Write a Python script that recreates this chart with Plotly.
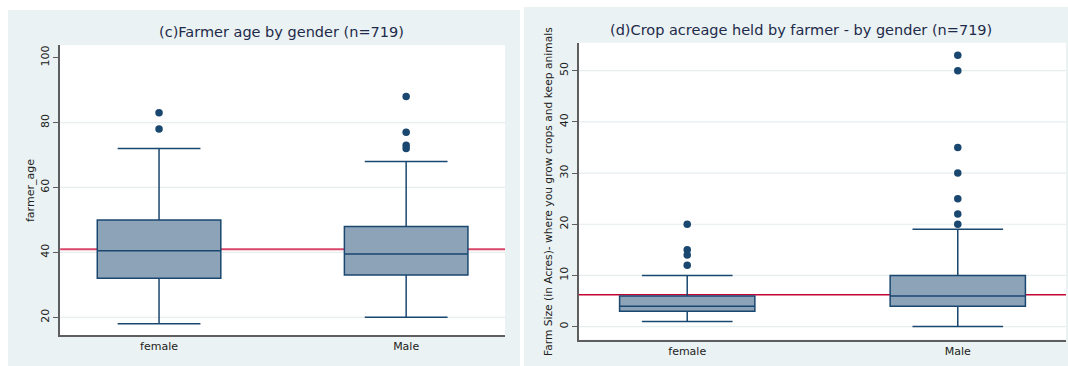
import plotly.graph_objects as go

# ---------------- data ----------------
GENDERS = ["female", "Male"]

AGE_Q1 = [32, 33]
AGE_MED = [40.5, 39.5]
AGE_Q3 = [50, 48]
AGE_LO = [18, 20]
AGE_HI = [72, 68]
AGE_OUT_FEMALE = [78, 83]
AGE_OUT_MALE = [72, 73, 77, 88]
AGE_MEAN = 41.0
AGE_TICKS = [20, 40, 60, 80, 100]
AGE_GRID = [20, 40, 60, 80]

ACRE_Q1 = [3, 4]
ACRE_MED = [4, 6]
ACRE_Q3 = [6, 10]
ACRE_LO = [1, 0]
ACRE_HI = [10, 19]
ACRE_OUT_FEMALE = [12, 14, 15, 20]
ACRE_OUT_MALE = [20, 22, 25, 30, 35, 50, 53]
ACRE_MEAN = 6.2
ACRE_TICKS = [0, 10, 20, 30, 40, 50]
ACRE_GRID = [0, 10, 20, 30, 40, 50]

TITLE_C = "(c)Farmer age by gender (n=719)"
TITLE_D = "(d)Crop acreage held by farmer - by gender (n=719)"
YTITLE_C = "farmer_age"
YTITLE_D = "Farm Size (in Acres)- where you grow crops and keep animals"

# ---------------- style ----------------
W, H = 1068, 366
NAVY = "#1A476F"
FILL = "#8DA3B8"
RED = "#C10534"
BG = "#EAF2F3"
GRID = "#E6EEF0"
AXIS = "#5E5E5E"
TXT = "#1E2A4A"
FONT = "DejaVu Sans"

def px(x):
    return x / W

def py(y):
    return 1 - y / H

fig = go.Figure()

def add_panel(xa, ya, q1, med, q3, lo, hi, out_f, out_m):
    fig.add_trace(go.Box(
        x=GENDERS, q1=q1, median=med, q3=q3, lowerfence=lo, upperfence=hi,
        boxpoints=False, width=0.5, whiskerwidth=0.67,
        fillcolor=FILL, line=dict(color=NAVY, width=1.5),
        xaxis=xa, yaxis=ya, showlegend=False, hoverinfo="skip"))
    for cat, vals in ((GENDERS[0], out_f), (GENDERS[1], out_m)):
        fig.add_trace(go.Scatter(
            x=[cat] * len(vals), y=vals, mode="markers",
            marker=dict(color=NAVY, size=7.5, line=dict(width=0)),
            xaxis=xa, yaxis=ya, showlegend=False, hoverinfo="skip"))

add_panel("x", "y", AGE_Q1, AGE_MED, AGE_Q3, AGE_LO, AGE_HI,
          AGE_OUT_FEMALE, AGE_OUT_MALE)
add_panel("x2", "y2", ACRE_Q1, ACRE_MED, ACRE_Q3, ACRE_LO, ACRE_HI,
          ACRE_OUT_FEMALE, ACRE_OUT_MALE)

shapes = []
# white gaps around the two grey panels
for x0, y0, x1, y1 in [(0, 0, 8, H), (0, 0, 524, 10), (520, 0, 524, H), (524, 0, W, 7)]:
    shapes.append(dict(type="rect", xref="paper", yref="paper",
                       x0=px(x0), x1=px(x1), y0=py(y1), y1=py(y0),
                       fillcolor="white", line=dict(width=0), layer="below"))

# grid lines
for v in AGE_GRID:
    shapes.append(dict(type="line", xref="x domain", yref="y", x0=0, x1=1, y0=v, y1=v,
                       line=dict(color=GRID, width=1.2), layer="below"))
for v in ACRE_GRID:
    shapes.append(dict(type="line", xref="x2 domain", yref="y2", x0=0, x1=1, y0=v, y1=v,
                       line=dict(color=GRID, width=1.2), layer="below"))
# mean reference lines
shapes.append(dict(type="line", xref="x domain", yref="y", x0=0, x1=1,
                   y0=AGE_MEAN, y1=AGE_MEAN, line=dict(color="#D9466A", width=2), layer="below"))
shapes.append(dict(type="line", xref="x2 domain", yref="y2", x0=0, x1=1,
                   y0=ACRE_MEAN, y1=ACRE_MEAN, line=dict(color=RED, width=1.5), layer="below"))

annotations = [
    dict(text=TITLE_C, x=px(281), y=py(32), xref="paper", yref="paper",
         xanchor="center", yanchor="middle", showarrow=False,
         font=dict(family=FONT, size=14.5, color=TXT)),
    dict(text=TITLE_D, x=px(801), y=py(30), xref="paper", yref="paper",
         xanchor="center", yanchor="middle", showarrow=False,
         font=dict(family=FONT, size=14.5, color=TXT)),
    dict(text=YTITLE_C, x=px(30), y=py(191), xref="paper", yref="paper",
         xanchor="center", yanchor="middle", showarrow=False, textangle=-90,
         font=dict(family=FONT, size=11, color="#222222")),
    dict(text=YTITLE_D, x=px(548), y=py(192), xref="paper", yref="paper",
         xanchor="center", yanchor="middle", showarrow=False, textangle=-90,
         font=dict(family=FONT, size=10.7, color="#222222")),
]

xcommon = dict(type="category", range=[-0.4, 1.4], showgrid=False, zeroline=False,
               showline=True, linecolor=AXIS, linewidth=1.6, ticks="",
               tickfont=dict(family=FONT, size=11, color="#222222"), fixedrange=True)
ycommon = dict(showgrid=False, zeroline=False, showline=True, linecolor=AXIS, linewidth=1.6,
               ticks="outside", ticklen=5, tickcolor=AXIS, tickwidth=1.2, tickangle=-90,
               tickfont=dict(family=FONT, size=11, color="#222222"), fixedrange=True)

fig.update_layout(
    width=W, height=H, margin=dict(l=0, r=0, t=0, b=0),
    paper_bgcolor=BG, plot_bgcolor="white",
    xaxis=dict(domain=[px(60.2), px(505)], anchor="y", **xcommon),
    yaxis=dict(domain=[py(335.3), py(45)], anchor="x", range=[14.45, 103.9],
               tickvals=AGE_TICKS, **ycommon),
    xaxis2=dict(domain=[px(579), px(1066)], anchor="y2", **xcommon),
    yaxis2=dict(domain=[py(339.6), py(42.7)], anchor="x2", range=[-2.54, 55.47],
                tickvals=ACRE_TICKS, **ycommon),
    shapes=shapes, annotations=annotations, showlegend=False,
)

fig.write_html("out.html")
